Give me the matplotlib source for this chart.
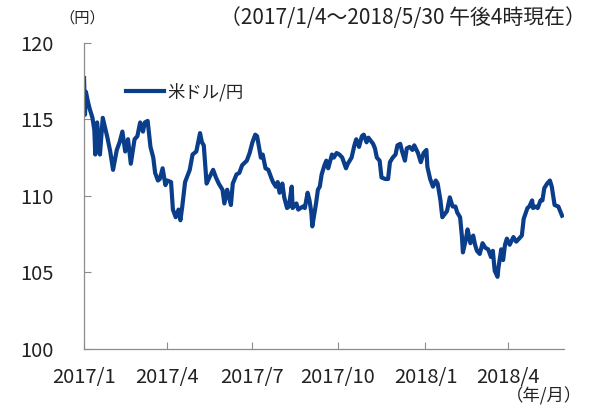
import matplotlib
matplotlib.use('Agg')
import matplotlib.pyplot as plt
import pandas as pd

plt.rcParams['font.family'] = ['Noto Sans CJK JP', 'DejaVu Sans']

# USD/JPY readings (date, rate) taken off the reference chart
dates = [
    '2017-01-04', '2017-01-05', '2017-01-06', '2017-01-08', '2017-01-10', '2017-01-13',
    '2017-01-15', '2017-01-16', '2017-01-18', '2017-01-21', '2017-01-24', '2017-01-29',
    '2017-02-01', '2017-02-04', '2017-02-08', '2017-02-11', '2017-02-14', '2017-02-17',
    '2017-02-20', '2017-02-23', '2017-02-27', '2017-03-02', '2017-03-05', '2017-03-08',
    '2017-03-10', '2017-03-13', '2017-03-16', '2017-03-19', '2017-03-21', '2017-03-24',
    '2017-03-26', '2017-03-29', '2017-04-01', '2017-04-03', '2017-04-07', '2017-04-09',
    '2017-04-12', '2017-04-15', '2017-04-17', '2017-04-19', '2017-04-22', '2017-04-27',
    '2017-04-30', '2017-05-04', '2017-05-08', '2017-05-10', '2017-05-12', '2017-05-15',
    '2017-05-18', '2017-05-22', '2017-05-25', '2017-05-28', '2017-06-01', '2017-06-03',
    '2017-06-06', '2017-06-10', '2017-06-12', '2017-06-16', '2017-06-19', '2017-06-22',
    '2017-06-27', '2017-06-30', '2017-07-03', '2017-07-06', '2017-07-08', '2017-07-12',
    '2017-07-14', '2017-07-17', '2017-07-20', '2017-07-23', '2017-07-25', '2017-07-28',
    '2017-07-30', '2017-08-01', '2017-08-04', '2017-08-06', '2017-08-09', '2017-08-11',
    '2017-08-14', '2017-08-15', '2017-08-19', '2017-08-21', '2017-08-26', '2017-08-28',
    '2017-08-31', '2017-09-02', '2017-09-04', '2017-09-05', '2017-09-09', '2017-09-11',
    '2017-09-13', '2017-09-15', '2017-09-18', '2017-09-20', '2017-09-22', '2017-09-26',
    '2017-09-28', '2017-10-01', '2017-10-04', '2017-10-07', '2017-10-11', '2017-10-13',
    '2017-10-17', '2017-10-20', '2017-10-22', '2017-10-25', '2017-10-28', '2017-10-30',
    '2017-11-02', '2017-11-04', '2017-11-09', '2017-11-11', '2017-11-13', '2017-11-16',
    '2017-11-18', '2017-11-22', '2017-11-25', '2017-11-27', '2017-11-30', '2017-12-03',
    '2017-12-05', '2017-12-08', '2017-12-10', '2017-12-13', '2017-12-15', '2017-12-18',
    '2017-12-21', '2017-12-23', '2017-12-27', '2017-12-30', '2018-01-02', '2018-01-05',
    '2018-01-06', '2018-01-09', '2018-01-12', '2018-01-15', '2018-01-17', '2018-01-20',
    '2018-01-22', '2018-01-27', '2018-01-30', '2018-02-02', '2018-02-05', '2018-02-07',
    '2018-02-10', '2018-02-12', '2018-02-13', '2018-02-16', '2018-02-18', '2018-02-21',
    '2018-02-24', '2018-02-26', '2018-02-28', '2018-03-03', '2018-03-06', '2018-03-09',
    '2018-03-12', '2018-03-15', '2018-03-17', '2018-03-19', '2018-03-22', '2018-03-23',
    '2018-03-26', '2018-03-28', '2018-03-30', '2018-04-01', '2018-04-04', '2018-04-08',
    '2018-04-11', '2018-04-14', '2018-04-17', '2018-04-19', '2018-04-23', '2018-04-25',
    '2018-04-28', '2018-04-29', '2018-05-02', '2018-05-04', '2018-05-07', '2018-05-09',
    '2018-05-11', '2018-05-14', '2018-05-17', '2018-05-19', '2018-05-22', '2018-05-26',
    '2018-05-30',
]
usdjpy = [
    117.7, 115.3, 116.8, 116.2, 115.7, 115.1,
    114.3, 112.7, 114.8, 112.7, 115.1, 113.8,
    112.9, 111.7, 113.0, 113.5, 114.2, 112.9,
    113.7, 112.1, 113.7, 113.9, 114.8, 114.2,
    114.8, 114.9, 113.2, 112.5, 111.5, 111.0,
    111.1, 111.8, 110.7, 111.0, 110.9, 109.1,
    108.6, 109.1, 108.4, 109.3, 110.9, 111.7,
    112.7, 112.9, 114.1, 113.5, 113.3, 110.8,
    111.2, 111.7, 111.2, 110.8, 110.4, 109.5,
    110.4, 109.4, 110.8, 111.4, 111.5, 112.0,
    112.3, 112.8, 113.5, 114.0, 113.9, 112.5,
    112.7, 111.8, 111.7, 111.2, 110.9, 110.6,
    110.9, 110.2, 110.8, 109.9, 109.2, 109.3,
    110.6, 109.2, 109.5, 109.1, 109.3, 109.2,
    110.2, 109.7, 108.9, 108.0, 109.5, 110.4,
    110.6, 111.4, 112.0, 112.3, 111.8, 112.7,
    112.5, 112.8, 112.7, 112.5, 111.8, 112.1,
    112.5, 113.3, 113.7, 113.2, 113.9, 114.0,
    113.5, 113.8, 113.4, 113.1, 112.5, 112.3,
    111.2, 111.1, 111.1, 112.2, 112.5, 112.7,
    113.3, 113.4, 112.9, 112.3, 113.1, 113.2,
    113.0, 113.3, 112.8, 112.2, 112.8, 113.0,
    111.9, 111.1, 110.6, 111.0, 110.8, 109.7,
    108.6, 109.0, 109.9, 109.3, 109.3, 108.9,
    108.6, 107.3, 106.3, 107.1, 107.8, 106.9,
    107.4, 106.8, 106.4, 106.2, 106.9, 106.6,
    106.5, 106.0, 106.4, 105.1, 104.7, 105.3,
    106.5, 105.8, 106.8, 107.2, 106.8, 107.3,
    107.0, 107.2, 107.4, 108.5, 109.2, 109.3,
    109.7, 109.2, 109.3, 109.2, 109.7, 109.7,
    110.5, 110.8, 111.0, 110.6, 109.4, 109.3,
    108.7,
]

tick_dates = ['2017-01-04', '2017-04-03', '2017-07-03', '2017-10-02', '2018-01-04', '2018-04-02']
tick_labels = ['2017/1', '2017/4', '2017/7', '2017/10', '2018/1', '2018/4']
y_ticks = [100, 105, 110, 115, 120]

x = pd.to_datetime(dates)

fig = plt.figure(figsize=(6.09, 4.05), dpi=100)
ax = fig.add_axes([0.138, 0.139, 0.788, 0.755])

ax.plot(x, usdjpy, color='#0a3d8a', linewidth=3.0, label='米ドル/円',
        solid_joinstyle='round')

ax.set_xlim(pd.Timestamp('2017-01-04'), pd.Timestamp('2018-06-01'))
ax.set_ylim(100, 120)
ax.set_yticks(y_ticks)
ax.set_xticks(pd.to_datetime(tick_dates))
ax.set_xticklabels(tick_labels)

for s in ['top', 'right']:
    ax.spines[s].set_visible(False)
for s in ['left', 'bottom']:
    ax.spines[s].set_color('#8c8c8c')
    ax.spines[s].set_linewidth(0.9)

ax.tick_params(axis='y', direction='in', length=5, color='#8c8c8c',
               labelsize=14.5, labelcolor='#222222', pad=22)
ax.tick_params(axis='x', direction='in', length=5, color='#8c8c8c',
               labelsize=14.5, labelcolor='#222222', pad=13)

leg = ax.legend(loc='center left', bbox_to_anchor=(0.055, 0.84), frameon=False,
                handlelength=2.2, handletextpad=0.2, fontsize=12.5)
for t in leg.get_texts():
    t.set_color('#222222')

fig.text(0.962, 0.955, '（2017/1/4～2018/5/30 午後4時現在）', ha='right', va='center',
         fontsize=15, color='#222222')
fig.text(0.135, 0.955, '（円）', ha='center', va='center', fontsize=11, color='#222222')
fig.text(0.893, 0.022, '（年/月）', ha='center', va='center', fontsize=12.5, color='#222222')

fig.savefig('out.png', dpi=100)
